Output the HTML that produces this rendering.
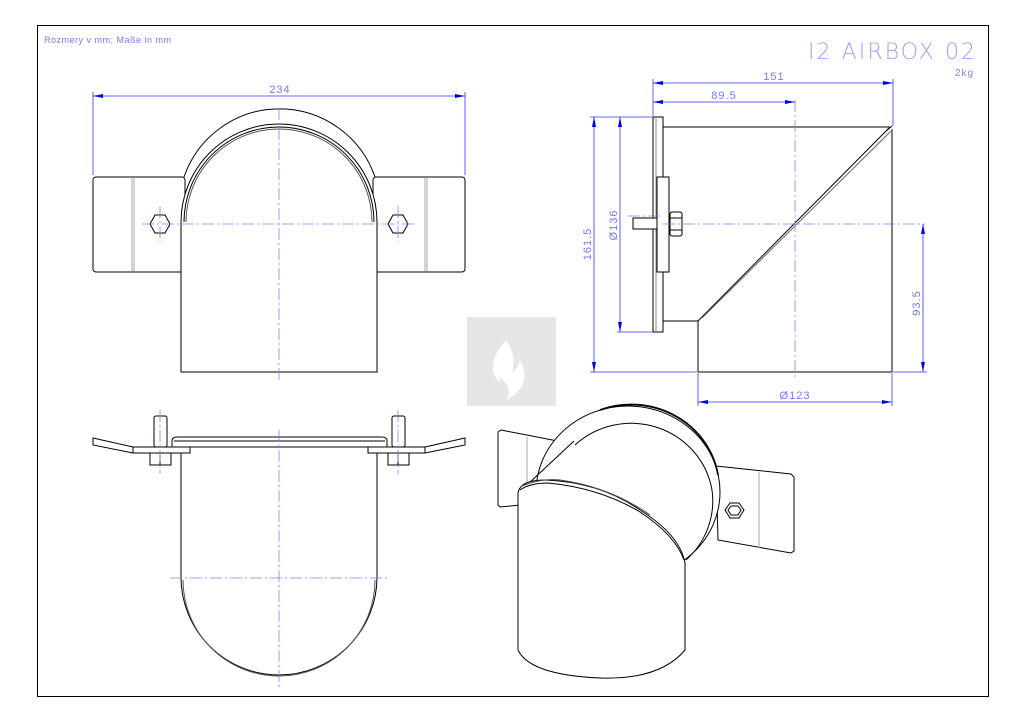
<!DOCTYPE html>
<html><head><meta charset="utf-8"><style>
html,body{margin:0;padding:0;background:#fff;}
svg{display:block;}
text{font-family:"Liberation Sans",sans-serif;fill:#7878ff;}
</style></head><body>
<svg width="1024" height="724" viewBox="0 0 1024 724" xmlns="http://www.w3.org/2000/svg">
<defs>
<marker id="a" viewBox="0 0 10 4" refX="10" refY="2" markerWidth="10" markerHeight="4" orient="auto-start-reverse" markerUnits="userSpaceOnUse"><path d="M0,0 L10,2 L0,4z" fill="#0000ee"/></marker>
</defs>
<rect x="37.5" y="25.5" width="951" height="671" fill="none" stroke="#000" stroke-width="1"/>
<text x="44" y="43" font-size="9" letter-spacing="0.5">Rozmery v mm; Maße in mm</text>
<text x="808" y="59" font-size="22" textLength="167" lengthAdjust="spacing" style="fill:#a0a0ff;font-family:'DejaVu Sans','Liberation Sans',sans-serif;font-weight:200">I2 AIRBOX 02</text>
<text x="955" y="76" font-size="10" style="fill:#8080ff" letter-spacing="1">2kg</text>

<!-- logo -->
<rect x="467" y="317" width="89" height="89" fill="#e6e6e6"/>
<path d="M506,340 C496,352 488,366 496,378 C500,384 502,382 498,376 C512,386 510,395 506,400 C522,392 530,378 520,360 C518,368 514,372 512,372 C516,360 512,348 506,340z" fill="#fff"/>

<g fill="none" stroke="#000" stroke-width="1">
<!-- TOP LEFT VIEW -->
<rect x="93" y="177" width="92" height="95" rx="3" fill="#fff"/>
<rect x="373" y="177" width="92" height="95" rx="3" fill="#fff"/>
<line x1="132" y1="178" x2="132" y2="271" stroke="#aaa"/>
<line x1="134" y1="178" x2="134" y2="271" stroke="#aaa"/>
<line x1="425" y1="178" x2="425" y2="271" stroke="#aaa"/>
<line x1="427" y1="178" x2="427" y2="271" stroke="#aaa"/>
<path d="M184,177 A101,101 0 0 1 375,177" fill="#fff"/>
<path d="M181,372 L181,222 A98,98 0 0 1 377,222 L377,372 Z" fill="#fff"/>
<path d="M184,222 A95,95 0 0 1 374,222"/>
<path d="M186,222 A93,93 0 0 1 372,222" stroke="#555"/>
<polygon points="150,224 155,215 165,215 170,224 165,233 155,233"/>
<polygon points="388,224 393,215 403,215 408,224 403,233 393,233"/>

<!-- TOP RIGHT VIEW -->
<rect x="653" y="117" width="10" height="215" fill="#fff"/>
<line x1="656" y1="118" x2="656" y2="331" stroke="#888"/>
<line x1="663" y1="127" x2="890" y2="127"/>
<line x1="892" y1="129" x2="892" y2="372"/>
<line x1="698" y1="372" x2="892" y2="372"/>
<line x1="698" y1="321" x2="698" y2="372"/>
<line x1="663" y1="321" x2="698" y2="321"/>
<line x1="698" y1="321" x2="889" y2="128"/>
<line x1="702" y1="318" x2="891" y2="131" stroke="#666"/>
<line x1="886" y1="131" x2="892" y2="126"/>
<rect x="657" y="177" width="12" height="95" fill="#fff"/>
<rect x="633" y="218" width="24" height="11" fill="#fff"/>
<rect x="670" y="212" width="12" height="24" rx="2" fill="#fff"/>
<line x1="670" y1="218" x2="682" y2="218"/>
<line x1="670" y1="230" x2="682" y2="230"/>

<!-- BOTTOM LEFT VIEW -->
<polygon points="93,438 133,447 190,447 190,453 133,453 93,445" fill="#fff"/>
<polygon points="465,438 425,447 368,447 368,453 425,453 465,445" fill="#fff"/>
<line x1="133" y1="447" x2="133" y2="453"/>
<line x1="425" y1="447" x2="425" y2="453"/>
<path d="M172,447 L172,440 Q173,437 177,437 L382,437 Q386,437 387,440 L387,447 Z" fill="#fff"/>
<line x1="174" y1="441" x2="385" y2="441"/>
<line x1="172" y1="447" x2="387" y2="447"/>
<rect x="154" y="416" width="13" height="31" rx="2" fill="#fff"/>
<rect x="392" y="416" width="13" height="31" rx="2" fill="#fff"/>
<rect x="150" y="453" width="21" height="12" fill="#fff"/>
<rect x="388" y="453" width="21" height="12" fill="#fff"/>
<line x1="160" y1="453" x2="160" y2="465"/>
<line x1="398" y1="453" x2="398" y2="465"/>
<path d="M181,453 L181,577 A98,98 0 0 0 377,577 L377,453"/>
<path d="M183,580 A96,96 0 0 0 375,580" stroke="#555"/>

<!-- ISOMETRIC VIEW -->
<polygon points="498,432 501,430 573,444 560,470 520,505 500,507 498,505" fill="#fff"/>
<line x1="527" y1="437" x2="527" y2="506" stroke="#aaa"/>
<polygon points="716,466 791,474 794,477 794,551 791,553 718,540" fill="#fff"/>
<line x1="759" y1="472" x2="759" y2="548" stroke="#aaa"/>
<ellipse cx="628" cy="492" rx="92" ry="86" fill="#fff"/>
<path d="M600,410 A88,84 0 0 1 718,475" stroke-width="1.8"/>
<path d="M575,445 A82,80 0 0 1 712,490"/>
<path d="M712,490 A82,80 0 0 1 686,560"/>
<line x1="528" y1="484" x2="574" y2="441"/>
<polygon points="725,510 730,503 739,503 744,510 739,518 730,518" fill="#fff"/>
<polygon points="728,510 731,506 738,506 741,510 738,515 731,515"/>
<path d="M518,493 Q520,480 545,480 Q600,482 640,510 Q680,535 685,563 L685,650 Q660,680 600,678 Q530,675 518,650 Z" fill="#fff"/>
<path d="M522,486 Q540,478 560,480 Q610,487 650,515" stroke="#444"/>
<path d="M520,490 Q530,483 548,483 Q600,488 640,512 Q675,535 684,560"/>
</g>

<!-- center lines -->
<g stroke="#8080ff" stroke-width="0.8" stroke-dasharray="12,3,2,3" fill="none">
<line x1="279" y1="108" x2="279" y2="382"/>
<line x1="142" y1="224" x2="417" y2="224"/>
<line x1="160" y1="206" x2="160" y2="242"/>
<line x1="398" y1="206" x2="398" y2="242"/>
<line x1="795" y1="100" x2="795" y2="378"/>
<line x1="663" y1="224" x2="925" y2="224"/>
<line x1="279" y1="430" x2="279" y2="690"/>
<line x1="170" y1="578" x2="387" y2="578"/>
<line x1="160" y1="410" x2="160" y2="474"/>
<line x1="398" y1="410" x2="398" y2="474"/>
<line x1="628" y1="216" x2="663" y2="216"/>
</g>

<!-- dimensions -->
<g stroke="#3333ff" stroke-width="0.8" fill="none">
<line x1="93" y1="96" x2="465" y2="96" marker-start="url(#a)" marker-end="url(#a)"/>
<line x1="93" y1="92" x2="93" y2="175"/>
<line x1="465" y1="92" x2="465" y2="175"/>
<line x1="653" y1="83" x2="893" y2="83" marker-start="url(#a)" marker-end="url(#a)"/>
<line x1="653" y1="102" x2="795" y2="102" marker-start="url(#a)" marker-end="url(#a)"/>
<line x1="653" y1="79" x2="653" y2="116"/>
<line x1="893" y1="79" x2="893" y2="126"/>
<line x1="594" y1="117" x2="594" y2="372" marker-start="url(#a)" marker-end="url(#a)"/>
<line x1="590" y1="117" x2="652" y2="117"/>
<line x1="590" y1="372" x2="697" y2="372"/>
<line x1="620" y1="117" x2="620" y2="332" marker-start="url(#a)" marker-end="url(#a)"/>
<line x1="617" y1="332" x2="652" y2="332"/>
<line x1="923" y1="224" x2="923" y2="372" marker-start="url(#a)" marker-end="url(#a)"/>
<line x1="893" y1="372" x2="927" y2="372"/>
<line x1="698" y1="402" x2="892" y2="402" marker-start="url(#a)" marker-end="url(#a)"/>
<line x1="698" y1="373" x2="698" y2="406"/>
<line x1="892" y1="373" x2="892" y2="406"/>
</g>
<g font-size="11" style="letter-spacing:1px">
<text x="280" y="93" text-anchor="middle">234</text>
<text x="774" y="80" text-anchor="middle">151</text>
<text x="724" y="99" text-anchor="middle">89.5</text>
<text x="795" y="399" text-anchor="middle">Ø123</text>
<text transform="translate(591,244) rotate(-90)" text-anchor="middle">161.5</text>
<text transform="translate(617,225) rotate(-90)" text-anchor="middle">Ø136</text>
<text transform="translate(920,303) rotate(-90)" text-anchor="middle">93.5</text>
</g>
</svg>
</body></html>
